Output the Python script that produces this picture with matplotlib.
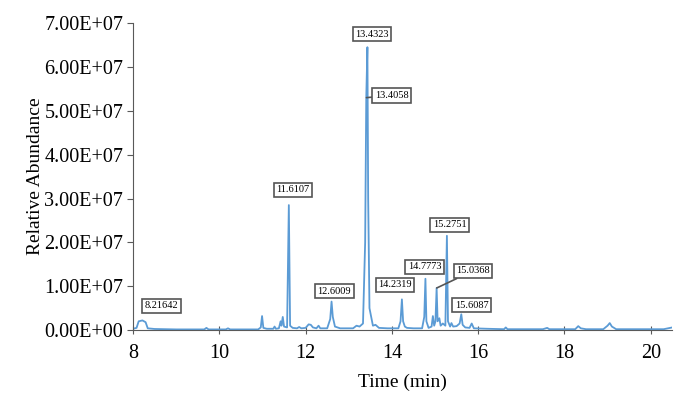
"""
GC-MS chromatogram: relative abundance vs retention time with labelled peaks.
"""
import matplotlib
matplotlib.use("Agg")
import matplotlib.pyplot as plt

# retention time (min) and abundance (x1e6) of the trace
time_min = [8.00, 8.08, 8.13, 8.21642, 8.29, 8.34, 8.50, 9.00, 9.65, 9.70, 9.75,
            10.15, 10.20, 10.25, 10.90, 10.96, 10.99, 11.02, 11.10, 11.25, 11.28,
            11.31, 11.38, 11.42, 11.44, 11.47, 11.50, 11.57, 11.6107, 11.64, 11.70,
            11.80, 11.85, 11.90, 12.00, 12.07, 12.12, 12.17, 12.25, 12.30, 12.34,
            12.50, 12.57, 12.6009, 12.63, 12.68, 12.80, 13.10, 13.18, 13.25, 13.33,
            13.38, 13.4058, 13.4323, 13.45, 13.48, 13.52, 13.56, 13.62, 13.70,
            13.90, 14.15, 14.20, 14.2319, 14.26, 14.30, 14.35, 14.50, 14.70, 14.75,
            14.7773, 14.80, 14.85, 14.92, 14.95, 14.98, 15.01, 15.0368, 15.06,
            15.10, 15.13, 15.18, 15.24, 15.2751, 15.30, 15.35, 15.38, 15.42, 15.50,
            15.57, 15.6087, 15.64, 15.70, 15.80, 15.85, 15.90, 16.20, 16.60, 16.64,
            16.68, 17.00, 17.50, 17.60, 17.65, 18.25, 18.32, 18.38, 18.50, 18.90,
            19.00, 19.05, 19.10, 19.20, 20.00, 20.30, 20.50]
abund_e6 = [0.3, 0.5, 2.0, 2.2, 1.8, 0.4, 0.25, 0.15, 0.15, 0.5, 0.15,
            0.15, 0.4, 0.15, 0.15, 0.6, 3.2, 0.5, 0.3, 0.3, 0.8,
            0.3, 0.4, 2.0, 1.0, 3.0, 0.8, 0.6, 28.5, 1.0, 0.5,
            0.4, 0.7, 0.4, 0.5, 1.3, 1.2, 0.6, 0.4, 1.0, 0.4,
            0.4, 2.5, 6.5, 3.0, 0.8, 0.4, 0.4, 1.0, 0.8, 1.5,
            20.0, 53.0, 64.5, 30.0, 5.0, 3.0, 1.0, 1.2, 0.5,
            0.4, 0.4, 2.0, 7.0, 2.0, 0.8, 0.5, 0.4, 0.4, 3.0,
            11.7, 2.0, 0.5, 0.8, 3.2, 1.0, 2.0, 9.6, 2.0,
            2.7, 1.0, 1.5, 1.0, 21.5, 2.0, 0.8, 1.6, 0.8, 0.9,
            1.5, 3.6, 1.2, 0.6, 0.5, 1.5, 0.4, 0.3, 0.2, 0.6,
            0.2, 0.2, 0.2, 0.5, 0.2, 0.2, 0.9, 0.4, 0.2, 0.2,
            1.0, 1.6, 0.8, 0.2, 0.2, 0.2, 0.6]
abundance = [v * 1e6 for v in abund_e6]

# plain boxed labels: text, label centre (time, abundance)
labels = ["8.21642", "11.6107", "12.6009", "13.4323", "14.2319", "14.7773",
          "15.2751", "15.6087"]
label_x = [8.65, 11.71, 12.66, 13.54, 14.07, 14.76, 15.34, 15.85]
label_y = [5.5e6, 3.2e7, 8.9e6, 6.75e7, 1.03e7, 1.44e7, 2.4e7, 5.7e6]

# callout labels: text, label centre, pointed peak
callouts = ["13.4058", "15.0368"]
callout_x = [14.00, 15.88]
callout_y = [5.35e7, 1.35e7]
callout_px = [13.41, 15.04]
callout_py = [5.3e7, 9.6e6]

plt.rcParams["font.family"] = ["Liberation Serif", "DejaVu Serif"]

fig = plt.figure(figsize=(6.86, 4.05), dpi=100)
ax = fig.add_axes([0.194, 0.185, 0.786, 0.758])

ax.plot(time_min, abundance, color="#5b9bd5", linewidth=1.3)

box = dict(boxstyle="square,pad=0.25", facecolor="white", edgecolor="#555555", linewidth=1.2)
for txt, x, y in zip(labels, label_x, label_y):
    ax.text(x, y, txt, ha="center", va="center", fontsize=7.5, bbox=box)
for txt, x, y, px, py in zip(callouts, callout_x, callout_y, callout_px, callout_py):
    ax.annotate(txt, xy=(px, py), xytext=(x, y), ha="center", va="center", fontsize=7.5,
                bbox=box, arrowprops=dict(arrowstyle="-", color="#555555", lw=1.2,
                                          shrinkA=0, shrinkB=0))

ax.set_xlim(8, 20.5)
ax.set_ylim(0, 7e7)
ax.set_xticks([8, 10, 12, 14, 16, 18, 20])
ax.set_yticks([i * 1e7 for i in range(8)])
ax.set_yticklabels(["0.00E+00", "1.00E+07", "2.00E+07", "3.00E+07", "4.00E+07",
                    "5.00E+07", "6.00E+07", "7.00E+07"])
ax.tick_params(axis="both", labelsize=14.5, color="#595959")
ax.tick_params(axis="x", direction="inout", length=6, pad=7)
ax.tick_params(axis="y", direction="out", length=4, pad=3)
for side in ["top", "right"]:
    ax.spines[side].set_visible(False)
for side in ["left", "bottom"]:
    ax.spines[side].set_color("#595959")

ax.set_xlabel("Time (min)", fontsize=14, labelpad=8)
ax.set_ylabel("Relative Abundance", fontsize=14, labelpad=0)

fig.savefig("out.png", dpi=100, facecolor="white")
plt.close(fig)
